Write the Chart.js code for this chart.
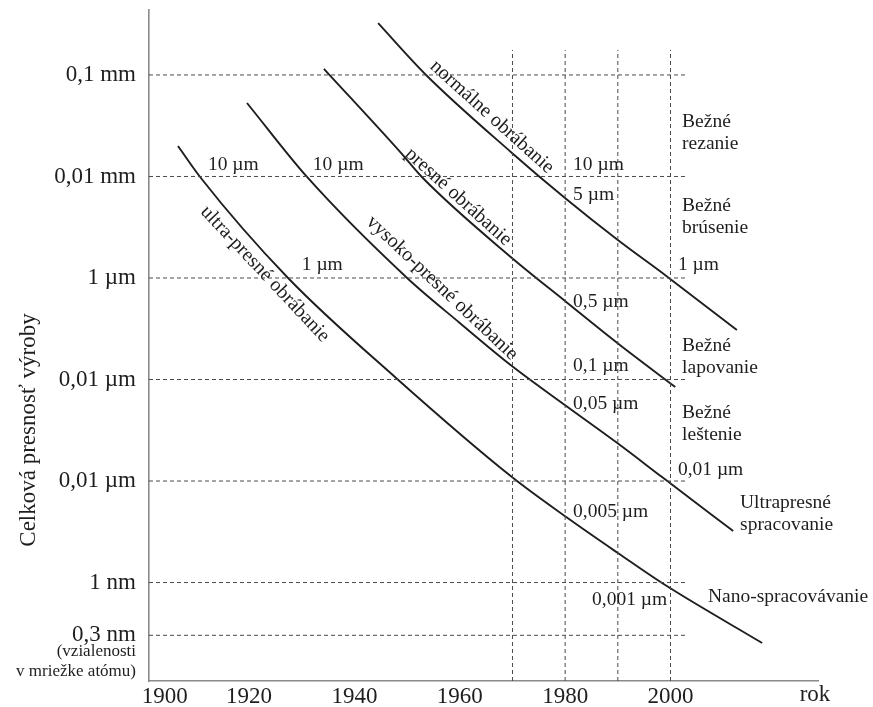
<!DOCTYPE html>
<html>
<head>
<meta charset="utf-8">
<script src="https://cdn.jsdelivr.net/npm/chart.js@4.4.1/dist/chart.umd.min.js"></script>
<style>
html,body{margin:0;padding:0;background:#fff;}
#wrap{width:873px;height:707px;position:relative;}
</style>
</head>
<body>
<div id="wrap"><canvas id="c" width="873" height="707"></canvas></div>
<script>
// ---- data (x = year, y = log10 of accuracy in µm) ----
const yearTicks = [1900, 1920, 1940, 1960, 1980, 2000];
const yTickValues = [2, 1, 0, -1, -2, -3, -3.52];
const yTickLabels = ['0,1 mm', '0,01 mm', '1 µm', '0,01 µm', '0,01 µm', '1 nm', '0,3 nm'];
const markerYears = [1970, 1980, 1990, 2000];

const normalYears  = [1944.5, 1953.4, 1969.9, 1980.2, 1990.0, 1999.2, 2012.6];
const normalValues = [2.51, 2.01, 1.232, 0.778, 0.374, 0.02, -0.512];

const presneYears  = [1934.2, 1948.7, 1952.8, 1969.9, 1980.2, 1989.9, 2000.9];
const presneValues = [2.06, 1.24, 0.995, 0.197, -0.236, -0.64, -1.074];

const vysokoYears  = [1919.6, 1931.0, 1950.0, 1960.0, 1969.9, 1980.2, 1989.9, 1998.4, 2011.9];
const vysokoValues = [1.724, 0.995, 0.0, -0.443, -0.867, -1.261, -1.626, -1.961, -2.493];

const ultraYears   = [1906.5, 1910.7, 1927.4, 1947.9, 1969.9, 1980.2, 1990.0, 1999.0, 2017.4];
const ultraValues  = [1.30, 0.995, 0.0, -0.985, -1.961, -2.355, -2.709, -3.025, -3.596];

const curveNames = ['normálne obrábanie', 'presné obrábanie', 'vysoko-presné obrábanie', 'ultra-presné obrábanie'];
const valueNoteTexts = ['10 µm', '10 µm', '1 µm', '10 µm', '5 µm', '1 µm', '0,5 µm', '0,1 µm', '0,05 µm', '0,01 µm', '0,005 µm', '0,001 µm'];
const regionTexts = [['Bežné', 'rezanie'], ['Bežné', 'brúsenie'], ['Bežné', 'lapovanie'], ['Bežné', 'leštenie'], ['Ultrapresné', 'spracovanie'], ['Nano-spracovávanie']];
const atomNote = ['(vzialenosti', 'v mriežke atómu)'];
const yTitle = 'Celková presnosť výroby';
const xTitle = 'rok';

// ---- layout (positions of texts, in chart coordinates) ----
const X_MIN = 1901, X_MAX = 2028, Y_MIN = -3.97, Y_MAX = 2.64;
const GRID_END_YEAR = 2002.8, VLINE_TOP = 2.246;
const curveLabelPos = [
  {yr: 1966.1, v: 1.586, a: 42},
  {yr: 1959.7, v: 0.798, a: 42},
  {yr: 1956.6, v: -0.099, a: 43.4},
  {yr: 1923.0, v: 0.039, a: 46.8}
];
const valueNotePos = [
  {yr: 1912.2, v: 1.113}, {yr: 1932.1, v: 1.113}, {yr: 1930.0, v: 0.128},
  {yr: 1981.5, v: 1.113}, {yr: 1981.5, v: 0.818}, {yr: 2001.4, v: 0.128},
  {yr: 1981.5, v: -0.236}, {yr: 1981.5, v: -0.867}, {yr: 1981.5, v: -1.241},
  {yr: 2001.4, v: -1.892}, {yr: 1981.5, v: -2.305}, {yr: 1985.1, v: -3.172}
];
const regionPos = [
  {yr: 2002.2, v: 1.54}, {yr: 2002.2, v: 0.715}, {yr: 2002.2, v: -0.670},
  {yr: 2002.2, v: -1.330}, {yr: 2013.2, v: -2.217}, {yr: 2007.1, v: -3.143}
];

const SERIF = '"Liberation Serif", "DejaVu Serif", serif';
const INK = '#1e1e1e';

function pts(xs, ys) { return xs.map((x, i) => ({x: x, y: ys[i]})); }

const datasets = [];
// dashed horizontal reference lines
yTickValues.forEach(v => {
  datasets.push({data: [{x: X_MIN, y: v}, {x: GRID_END_YEAR, y: v}], borderColor: '#4a4a4a', borderWidth: 1, borderDash: [4, 3], pointRadius: 0, showLine: true, tension: 0});
});
// dashed vertical reference lines
markerYears.forEach(yr => {
  datasets.push({data: [{x: yr, y: Y_MIN}, {x: yr, y: VLINE_TOP}], borderColor: '#4a4a4a', borderWidth: 1, borderDash: [4, 3], pointRadius: 0, showLine: true, tension: 0});
});
// curves
[[normalYears, normalValues], [presneYears, presneValues], [vysokoYears, vysokoValues], [ultraYears, ultraValues]].forEach((c, i) => {
  datasets.push({label: curveNames[i], data: pts(c[0], c[1]), borderColor: INK, borderWidth: 1.9, pointRadius: 0, showLine: true, cubicInterpolationMode: 'monotone'});
});

const textPlugin = {
  id: 'texts',
  afterDraw(chart) {
    const ctx = chart.ctx, xs = chart.scales.x, ys = chart.scales.y;
    const px = v => xs.getPixelForValue(v), py = v => ys.getPixelForValue(v);
    ctx.save();
    ctx.fillStyle = INK;
    ctx.textBaseline = 'middle';
    // curve names, rotated along the curves
    ctx.font = '20px ' + SERIF;
    ctx.textAlign = 'center';
    curveLabelPos.forEach((p, i) => {
      ctx.save();
      ctx.translate(px(p.yr), py(p.v));
      ctx.rotate(p.a * Math.PI / 180);
      ctx.fillText(curveNames[i], 0, 0);
      ctx.restore();
    });
    // value notes
    ctx.font = '19.5px ' + SERIF;
    ctx.textAlign = 'left';
    valueNoteTexts.forEach((t, i) => {
      ctx.fillText(t, px(valueNotePos[i].yr), py(valueNotePos[i].v));
    });
    // region labels
    regionTexts.forEach((lines, i) => {
      lines.forEach((t, j) => {
        ctx.fillText(t, px(regionPos[i].yr), py(regionPos[i].v) + j * 22);
      });
    });
    // atom spacing note under the 0,3 nm tick
    ctx.font = '17px ' + SERIF;
    ctx.textAlign = 'right';
    const baseY = py(yTickValues[yTickValues.length - 1]);
    ctx.fillText(atomNote[0], xs.left - 13, baseY + 16);
    ctx.fillText(atomNote[1], xs.left - 13, baseY + 36);
    // axis titles
    ctx.font = '23px ' + SERIF;
    ctx.textAlign = 'center';
    ctx.fillText(xTitle, 815, 695);
    ctx.save();
    ctx.translate(29, 430);
    ctx.rotate(-Math.PI / 2);
    ctx.fillText(yTitle, 0, 0);
    ctx.restore();
    ctx.restore();
  }
};

new Chart(document.getElementById('c'), {
  type: 'scatter',
  data: {datasets: datasets},
  options: {
    responsive: false,
    animation: false,
    devicePixelRatio: 1,
    layout: {padding: {top: 10, right: 55, left: 0, bottom: 0}},
    plugins: {legend: {display: false}, tooltip: {enabled: false}},
    scales: {
      x: {
        type: 'linear', min: X_MIN, max: X_MAX,
        grid: {display: false, drawTicks: false},
        border: {display: true, color: '#8a8a8a', width: 1.6},
        afterBuildTicks: s => { s.ticks = yearTicks.map(v => ({value: Math.max(v, X_MIN + 3)})); },
        afterFit: s => { s.height = 26; s.paddingLeft = 0; s.paddingRight = 0; },
        ticks: {
          autoSkip: false, maxRotation: 0, padding: 2, color: INK,
          font: {family: SERIF, size: 23},
          callback: (v, i) => String(yearTicks[i])
        }
      },
      y: {
        type: 'linear', min: Y_MIN, max: Y_MAX,
        grid: {display: false, drawTicks: false},
        border: {display: true, color: '#8a8a8a', width: 1.6},
        afterBuildTicks: s => { s.ticks = yTickValues.map(v => ({value: v})); },
        afterFit: s => { s.width = 149; s.paddingTop = 0; s.paddingBottom = 0; },
        ticks: {
          autoSkip: false, padding: 13, color: INK,
          font: {family: SERIF, size: 23},
          callback: (v, i) => yTickLabels[i]
        }
      }
    }
  },
  plugins: [textPlugin]
});
</script>
</body>
</html>
